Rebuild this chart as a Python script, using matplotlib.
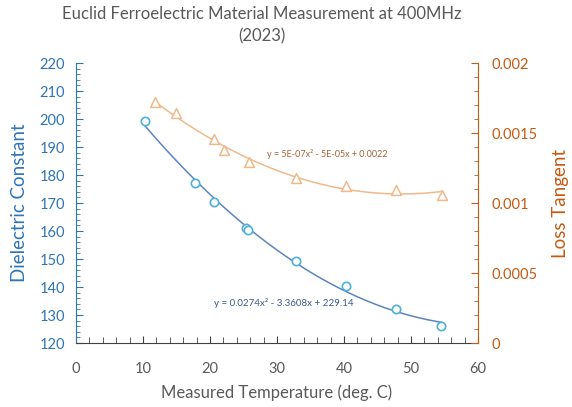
import numpy as np
import matplotlib
matplotlib.use("Agg")
import matplotlib.pyplot as plt
from matplotlib.ticker import MultipleLocator, FuncFormatter

plt.rcParams['font.family'] = ['Lato', 'DejaVu Sans']

temp_dc = [10.3, 17.7, 20.6, 25.4, 25.7, 32.8, 40.3, 47.7, 54.5]
dielectric = [199.2, 177.3, 170.4, 161.2, 160.4, 149.2, 140.2, 132.1, 126.1]

temp_lt = [11.8, 14.9, 20.6, 22.1, 25.8, 32.8, 40.3, 47.7, 54.6]
loss_tangent = [0.00172, 0.00164, 0.00146, 0.00138, 0.00129, 0.00118, 0.00112, 0.00109, 0.00106]

eq_dc = "y = 0.0274x² - 3.3608x + 229.14"
eq_lt = "y = 5E-07x² - 5E-05x + 0.0022"

title = "Euclid Ferroelectric Material Measurement at 400MHz\n(2023)"
xlabel = "Measured Temperature (deg. C)"
ylabel_left = "Dielectric Constant"
ylabel_right = "Loss Tangent"

BLUE_AX = "#2E75B6"
ORANGE_AX = "#C55A11"
GRAY = "#595959"
CIRCLE = "#4EB0DC"
BLUE_LINE = "#5B85BE"
TAN = "#F0B98A"

fig = plt.figure(figsize=(5.72, 4.07), dpi=100)
ax = fig.add_axes([0.1329, 0.1572, 0.7028, 0.688])
ax2 = ax.twinx()

# dielectric
ax.scatter(temp_dc, dielectric, s=36, facecolors='white', edgecolors=CIRCLE, linewidths=1.2, zorder=3)
c = np.polyfit(temp_dc, dielectric, 2)
xs = np.linspace(min(temp_dc), max(temp_dc), 200)
ax.plot(xs, np.polyval(c, xs), color=BLUE_LINE, lw=1.1, zorder=2)

# loss tangent
ax2.scatter(temp_lt, loss_tangent, s=50, marker='^', facecolors='white', edgecolors=TAN, linewidths=1.1, zorder=3)
c2 = np.polyfit(temp_lt, loss_tangent, 2)
xs2 = np.linspace(min(temp_lt), max(temp_lt), 200)
ax2.plot(xs2, np.polyval(c2, xs2), color=TAN, lw=1.1, zorder=2)

ax.set_xlim(0, 60)
ax.set_ylim(120, 220)
ax2.set_ylim(0, 0.002)

ax.xaxis.set_major_locator(MultipleLocator(10))
ax.xaxis.set_minor_locator(MultipleLocator(2))
ax.yaxis.set_major_locator(MultipleLocator(10))
ax.yaxis.set_minor_locator(MultipleLocator(2))
ax2.yaxis.set_major_locator(MultipleLocator(0.0005))
ax2.yaxis.set_minor_locator(MultipleLocator(0.0001))
ax2.yaxis.set_major_formatter(FuncFormatter(lambda v, p: "0" if abs(v) < 1e-12 else ("%g" % v)))

for a in (ax, ax2):
    a.spines['top'].set_visible(False)
ax.spines['right'].set_visible(False)
ax2.spines['left'].set_visible(False)
ax2.spines['bottom'].set_visible(False)
ax.spines['left'].set_color(BLUE_AX)
ax2.spines['right'].set_color(ORANGE_AX)
ax.spines['bottom'].set_color("#404040")

ax.tick_params(axis='y', which='both', direction='in', colors=BLUE_AX, labelsize=10.5, pad=8)
ax.tick_params(axis='y', which='major', length=5)
ax.tick_params(axis='y', which='minor', length=3)
ax.tick_params(axis='x', which='both', direction='in', color="#404040", labelcolor=GRAY, labelsize=10.5, pad=14)
ax.tick_params(axis='x', which='major', length=5)
ax.tick_params(axis='x', which='minor', length=4)
ax2.tick_params(axis='y', which='both', direction='in', colors=ORANGE_AX, labelsize=10.5, pad=10)
ax2.tick_params(axis='y', which='major', length=5)
ax2.tick_params(axis='y', which='minor', length=3)

ax.set_xlabel(xlabel, color=GRAY, fontsize=12, labelpad=6)
ax.set_ylabel(ylabel_left, color=BLUE_AX, fontsize=13.5, labelpad=8)
ax2.set_ylabel(ylabel_right, color=ORANGE_AX, fontsize=13.5, labelpad=10)

fig.text(0.458, 0.985, title, color=GRAY, fontsize=12, ha='center', va='top', linespacing=1.45)

ax.text(31.0, 134.3, eq_dc, color="#3A5A8C", fontsize=7, ha='center', va='center')
ax2.text(37.5, np.interp(154, [63, 343], [0.002, 0]), eq_lt, color="#A8623A", fontsize=6.5, ha='center', va='center')

fig.savefig("out.png", dpi=100)
